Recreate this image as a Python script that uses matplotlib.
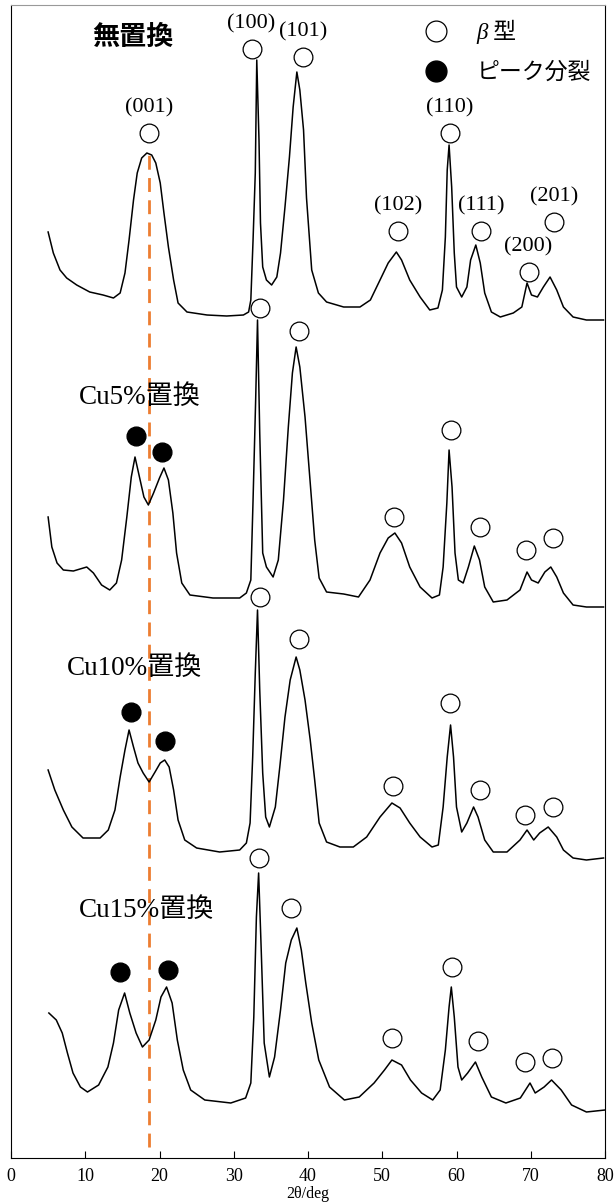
import matplotlib.pyplot as plt
from matplotlib.lines import Line2D

# ---- data (2theta in deg, stacked intensity in arbitrary units) ----
theta_0 = [5.0, 5.7, 6.6, 7.5, 8.85, 10.6, 12.4, 13.8, 14.7, 15.35, 15.9, 16.5, 17.0, 17.6, 18.3,
           18.95, 19.5, 20.1, 20.6, 21.2, 21.9, 22.5, 23.7, 26.4, 29.05, 31.3, 32.0, 32.3, 32.6,
           32.9, 33.1, 33.4, 33.6, 33.9, 34.4, 35.1, 35.8, 36.3, 36.9, 37.5, 38.0, 38.5, 38.9,
           39.4, 39.8, 40.5, 41.4, 42.5, 44.8, 47.0, 48.4, 49.7, 50.8, 51.9, 52.6, 53.7, 55.1,
           56.4, 57.5, 58.1, 58.5, 58.75, 59.0, 59.35, 59.7, 60.0, 60.7, 61.4, 61.9, 62.6, 63.2,
           63.8, 64.7, 65.9, 67.65, 68.8, 69.5, 70.1, 70.9, 71.7, 72.6, 73.5, 74.4, 75.7, 77.5,
           79.8]
inten_0 = [926, 905, 888, 880, 873, 866, 863, 860, 865, 885, 918, 958, 985, 1000, 1005,
           1003, 995, 975, 945, 911, 878, 855, 846, 843, 842, 843, 846, 858, 918,
           985, 1098, 1018, 935, 891, 878, 873, 881, 905, 951, 1001, 1051, 1086, 1068,
           1028, 960, 888, 865, 856, 851, 851, 858, 878, 895, 906, 898, 878, 861,
           848, 850, 868, 921, 988, 1013, 971, 905, 871, 861, 871, 898, 913, 895,
           865, 846, 841, 845, 851, 875, 863, 861, 871, 881, 868, 851, 841, 838,
           838]

theta_5 = [5.0, 5.5, 6.2, 7.05, 8.4, 10.2, 11.1, 12.2, 13.3, 14.2, 14.9, 15.6, 16.2, 16.7, 17.3,
           17.9, 18.5, 19.2, 20.0, 20.6, 21.2, 21.8, 22.3, 23.0, 24.1, 27.2, 30.8, 31.7, 32.3,
           32.6, 32.95, 33.2, 33.5, 33.9, 34.4, 35.3, 36.0, 36.7, 37.35, 37.9, 38.4, 38.9, 39.6,
           40.3, 40.9, 41.5, 42.5, 44.8, 46.8, 48.35, 49.7, 50.8, 51.7, 52.6, 53.7, 55.1, 56.7,
           57.7, 58.2, 58.7, 59.0, 59.4, 59.8, 60.25, 60.9, 61.6, 62.4, 63.1, 63.8, 64.95, 66.8,
           68.55, 69.5, 70.1, 71.0, 71.9, 72.7, 73.5, 74.4, 75.7, 77.5, 79.8]
inten_5 = [641, 611, 595, 588, 587, 591, 585, 573, 568, 575, 598, 641, 681, 701, 681,
           661, 653, 665, 680, 690, 678, 645, 605, 575, 563, 560, 560, 565, 578,
           658, 758, 838, 725, 605, 591, 581, 598, 658, 731, 785, 811, 791, 741,
           675, 618, 580, 566, 564, 561, 578, 605, 620, 625, 615, 591, 571, 560,
           563, 591, 655, 708, 671, 605, 578, 575, 591, 612, 598, 571, 556, 558,
           568, 586, 578, 575, 586, 591, 581, 565, 553, 551, 551]

theta_10 = [5.0, 5.9, 7.05, 8.2, 9.7, 12.0, 13.1, 14.0, 14.7, 15.35, 15.9, 16.5, 17.1, 17.8, 18.6,
            19.4, 20.1, 20.7, 21.3, 21.9, 22.5, 23.4, 25.0, 28.1, 30.8, 31.7, 32.2, 32.55, 32.9,
            33.2, 33.5, 33.9, 34.3, 34.8, 35.6, 36.2, 36.9, 37.6, 38.4, 38.9, 39.6, 40.3, 40.9,
            41.5, 42.5, 44.3, 46.1, 47.9, 49.7, 51.3, 52.4, 53.7, 55.1, 56.7, 57.55, 58.2, 58.75,
            59.2, 59.6, 60.0, 60.7, 61.4, 62.3, 62.9, 63.8, 64.95, 66.8, 68.55, 69.5, 70.4, 71.2,
            72.35, 73.5, 74.4, 75.7, 77.5, 79.8]
inten_10 = [388, 368, 348, 331, 320, 320, 328, 348, 381, 408, 428, 411, 395, 385, 376,
            386, 395, 398, 391, 368, 338, 318, 310, 306, 308, 315, 335, 401, 485,
            548, 468, 385, 341, 331, 351, 391, 441, 478, 501, 488, 458, 418, 378,
            335, 316, 311, 311, 321, 341, 355, 350, 335, 321, 311, 313, 351, 401,
            433, 401, 351, 326, 335, 351, 341, 318, 306, 306, 318, 328, 318, 325,
            331, 321, 308, 300, 298, 300]

theta_15 = [5.1, 6.1, 6.9, 7.6, 8.35, 9.35, 10.3, 11.8, 13.05, 13.8, 14.5, 15.3, 16.0, 16.85, 17.7,
            18.6, 19.5, 20.2, 20.95, 21.7, 22.4, 23.2, 24.2, 26.1, 29.6, 31.6, 32.3, 32.7, 33.05,
            33.35, 33.7, 34.1, 34.8, 35.5, 36.3, 37.0, 37.75, 38.5, 39.1, 39.7, 40.5, 41.45, 42.9,
            44.9, 46.9, 48.9, 50.3, 51.3, 52.6, 53.8, 55.3, 56.8, 57.8, 58.5, 59.0, 59.3, 59.7,
            60.2, 60.7, 61.5, 62.55, 63.4, 64.7, 66.65, 68.6, 69.9, 70.6, 71.8, 72.8, 74.1, 75.5,
            77.5, 80.0]
inten_15 = [145, 138, 125, 105, 85, 71, 66, 73, 91, 115, 148, 165, 145, 125, 111,
            118, 138, 161, 171, 155, 118, 88, 68, 58, 55, 60, 75, 141, 241,
            285, 208, 115, 81, 101, 148, 195, 218, 230, 208, 175, 135, 98, 71,
            58, 61, 75, 88, 98, 93, 78, 65, 58, 68, 108, 151, 171, 141,
            91, 78, 85, 96, 81, 61, 55, 60, 75, 65, 71, 78, 68, 53,
            46, 48]

# beta-phase peak marks (open circles) and split-peak marks (filled circles)
beta_theta_0 = [18.6, 32.4, 39.3, 52.1, 59.1, 63.3, 69.7, 73.1]
beta_h_0 = [1025, 1109, 1101, 927, 1025, 927, 886, 936]
hkl_0 = ["(001)", "(100)", "(101)", "(102)", "(110)", "(111)", "(200)", "(201)"]

beta_theta_5 = [33.5, 38.8, 51.6, 59.3, 63.2, 69.4, 73.0]
beta_h_5 = [850, 827, 641, 728, 631, 608, 620]
split_theta_5 = [16.8, 20.4]
split_h_5 = [722, 706]

beta_theta_10 = [33.5, 38.8, 51.4, 59.1, 63.2, 69.2, 73.0]
beta_h_10 = [561, 519, 372, 455, 368, 343, 351]
split_theta_10 = [16.1, 20.8]
split_h_10 = [446, 417]

beta_theta_15 = [33.4, 37.7, 51.3, 59.4, 62.9, 69.2, 72.9]
beta_h_15 = [300, 250, 120, 191, 117, 96, 100]
split_theta_15 = [14.7, 21.1]
split_h_15 = [186, 188]

sample_names = ["無置換", "Cu5%置換", "Cu10%置換", "Cu15%置換"]
name_x = [11.0, 9.1, 7.5, 9.1]
name_y = [1120, 761, 490, 248]

legend_labels = ["β 型", "ピーク分裂"]

ref_theta = 18.6
ref_span = [11, 1006]

xticks = [0, 10, 20, 30, 40, 50, 60, 70, 80]

# ---- plotting ----
plt.rcParams['font.family'] = ['Liberation Serif', 'Noto Sans CJK JP']

fig = plt.figure(figsize=(6.14, 12.02), dpi=100)
ax = fig.add_axes([11 / 614, 44 / 1202, 594 / 614, 1153 / 1202])

for th, y in [(theta_0, inten_0), (theta_5, inten_5), (theta_10, inten_10), (theta_15, inten_15)]:
    ax.plot(th, y, color='black', lw=1.1, zorder=3)

ax.plot([ref_theta, ref_theta], ref_span, color='#ED7D31', lw=2.0,
        dashes=(5, 3), zorder=2)

open_style = dict(ls='none', marker='o', ms=13.5, mfc='white', mec='black', mew=0.9, zorder=4)
fill_style = dict(ls='none', marker='o', ms=13.5, mfc='black', mec='black', zorder=4)

ax.plot(beta_theta_0, beta_h_0, **open_style)
ax.plot(beta_theta_5, beta_h_5, **open_style)
ax.plot(beta_theta_10, beta_h_10, **open_style)
ax.plot(beta_theta_15, beta_h_15, **open_style)
ax.plot(split_theta_5, split_h_5, **fill_style)
ax.plot(split_theta_10, split_h_10, **fill_style)
ax.plot(split_theta_15, split_h_15, **fill_style)

for t, h, lab in zip(beta_theta_0, beta_h_0, hkl_0):
    ax.annotate(lab, (t, h), xytext=(0, 18), textcoords='offset points',
                ha='center', va='center', fontsize=16, family='Liberation Serif')

for i, name in enumerate(sample_names):
    ax.text(name_x[i], name_y[i], name, ha='left', va='center', fontsize=19.5,
            fontweight='bold' if i == 0 else 'normal')

handles = [
    Line2D([], [], ls='none', marker='o', ms=15, mfc='white', mec='black', mew=0.9),
    Line2D([], [], ls='none', marker='o', ms=15, mfc='black', mec='black'),
]
leg = ax.legend(handles, legend_labels, loc='upper right', frameon=False,
                fontsize=16.5, handlelength=1.0, handletextpad=1.3, labelspacing=0.8,
                borderaxespad=0.2, bbox_to_anchor=(1.0, 0.999))
# beta is set in italic (the kanji falls back to the upright CJK face)
leg.get_texts()[0].set_fontstyle('italic')

ax.set_xlim(0, 80)
ax.set_ylim(0, 1153)
ax.set_xticks(xticks)
ax.set_yticks([])
ax.tick_params(axis='x', direction='in', length=5, labelsize=13, pad=7)
ax.set_xlabel("2θ/deg", fontsize=11.5, labelpad=1)
ax.spines['top'].set_color('#999999')

fig.savefig("out.png", dpi=100)
